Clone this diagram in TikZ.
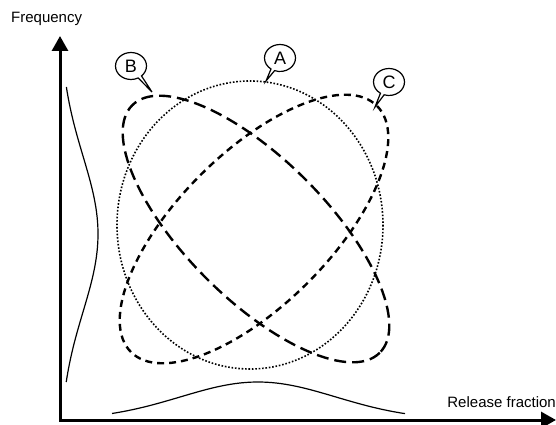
\documentclass[tikz,border=0pt]{standalone}
\usepackage{fontspec}
\setmainfont{Liberation Sans}
\usetikzlibrary{arrows.meta}
\usetikzlibrary{shapes.callouts}

\tikzset{
    curveA/.style={line width=1.6pt, dash pattern=on 1.6pt off 1.8pt},
    curveB/.style={line width=2.4pt, dash pattern=on 12pt off 6pt},
    curveC/.style={line width=2.4pt, dash pattern=on 7pt off 5pt},
    tag/.style={ellipse callout, draw=black, line width=1.2pt, fill=white,
        inner sep=0pt, minimum width=31pt, minimum height=27pt,
        font=\fontsize{18}{18}\selectfont},
    axislabel/.style={font=\fontsize{15}{15}\selectfont, inner sep=0pt},
    spread/.style={line width=1.2pt},
}

\begin{document}
\begin{tikzpicture}[x=1pt, y=-1pt]
    \useasboundingbox (0,0) rectangle (556,425);

    % axes
    \coordinate (O) at (60,420);
    \coordinate (ytip) at (60,36);
    \coordinate (xtip) at (556,420);
    \draw [line width=3pt, {Triangle[length=15pt, width=16pt]}-{Triangle[length=15pt, width=16pt]}] (ytip) -- (O) -- (xtip);

    \node[axislabel, anchor=west] (freq) at (11,19) {Frequency};
    \node[axislabel, anchor=east] (rel) at (556,402) {Release fraction};

    % marginal distributions
    \draw [spread] plot [domain=87:382, samples=60] ({60+38*exp(-((\x-234)/110)*((\x-234)/110))}, \x);
    \draw [spread] plot [domain=112:405, samples=60] (\x, {420-38*exp(-((\x-258)/110)*((\x-258)/110))});

    % regions
    \draw [curveA] (250,225) ellipse (133 and 144);
    \draw [curveB, shift={(256,229)}, rotate=-45] (0,0) ellipse (175 and 70);
    \draw [curveC, shift={(254,229)}, rotate=45] (0,0) ellipse (174 and 76);

    % labels
    \coordinate (tipA) at (266,81);
    \coordinate (tipB) at (152,92);
    \coordinate (tipC) at (375,107);
    \node[tag, callout absolute pointer={(tipA)}] (labA) at (280,58) {A};
    \node[tag, callout absolute pointer={(tipB)}] (labB) at (131,66) {B};
    \node[tag, callout absolute pointer={(tipC)}] (labC) at (389,82) {C};
\end{tikzpicture}
\end{document}
